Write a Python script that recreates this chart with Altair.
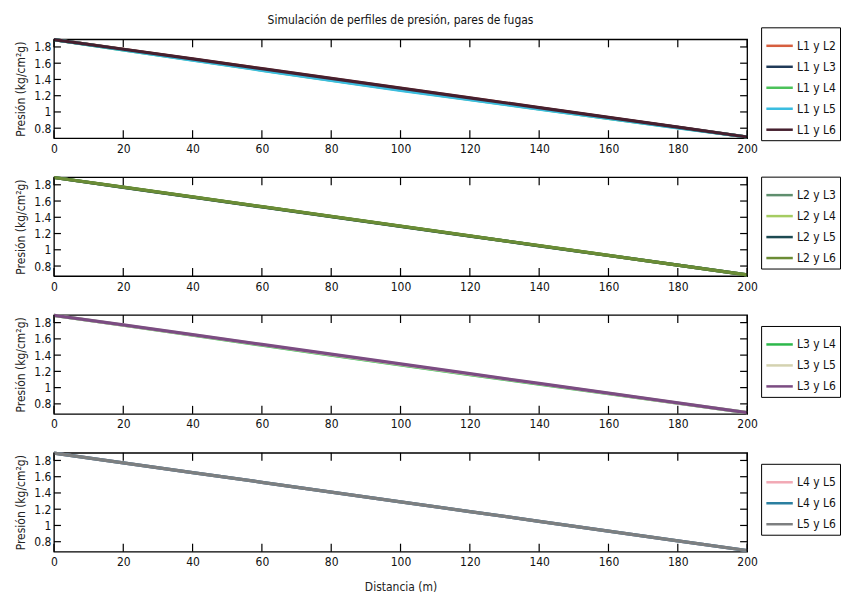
import altair as alt
import pandas as pd

FONT = "Liberation Sans Narrow, DejaVu Sans Condensed, Liberation Sans, sans-serif"

# ---- data ---------------------------------------------------------------
dist_m = [0, 20, 40, 60, 80, 100, 120, 140, 160, 180, 200]
x_ticks = [0, 20, 40, 60, 80, 100, 120, 140, 160, 180, 200]
y_ticks = [0.8, 1.0, 1.2, 1.4, 1.6, 1.8]

# panel 1
p1_names = ["L1 y L2", "L1 y L3", "L1 y L4", "L1 y L5", "L1 y L6"]
p1_colors = ["#d65f3f", "#203a58", "#4cc25a", "#3bbde0", "#46202f"]
L1_L2 = [1.89, 1.772, 1.652, 1.532, 1.412, 1.292, 1.172, 1.052, 0.932, 0.812, 0.692]
L1_L3 = [1.89, 1.769, 1.647, 1.526, 1.405, 1.285, 1.166, 1.047, 0.928, 0.810, 0.692]
L1_L4 = [1.89, 1.765, 1.640, 1.515, 1.392, 1.270, 1.153, 1.038, 0.921, 0.806, 0.692]
L1_L5 = [1.89, 1.764, 1.638, 1.512, 1.388, 1.266, 1.150, 1.035, 0.919, 0.805, 0.692]
L1_L6 = [1.89, 1.772, 1.653, 1.533, 1.413, 1.294, 1.174, 1.053, 0.933, 0.813, 0.692]

# panel 2
p2_names = ["L2 y L3", "L2 y L4", "L2 y L5", "L2 y L6"]
p2_colors = ["#5f8f6e", "#a5cc62", "#1d4a52", "#6b8c35"]
L2_L3 = [1.89, 1.770, 1.650, 1.530, 1.410, 1.290, 1.170, 1.050, 0.931, 0.811, 0.692]
L2_L4 = [1.89, 1.771, 1.651, 1.531, 1.411, 1.291, 1.171, 1.051, 0.932, 0.812, 0.692]
L2_L5 = [1.89, 1.769, 1.648, 1.528, 1.408, 1.288, 1.168, 1.049, 0.930, 0.811, 0.692]
L2_L6 = [1.89, 1.771, 1.651, 1.531, 1.411, 1.291, 1.171, 1.051, 0.931, 0.811, 0.692]

# panel 3
p3_names = ["L3 y L4", "L3 y L5", "L3 y L6"]
p3_colors = ["#2db84b", "#d4d2b0", "#7b4c82"]
L3_L4 = [1.89, 1.768, 1.645, 1.522, 1.400, 1.278, 1.160, 1.043, 0.926, 0.808, 0.692]
L3_L5 = [1.89, 1.770, 1.649, 1.528, 1.407, 1.286, 1.167, 1.048, 0.929, 0.810, 0.692]
L3_L6 = [1.89, 1.772, 1.652, 1.532, 1.412, 1.292, 1.172, 1.052, 0.932, 0.812, 0.692]

# panel 4
p4_names = ["L4 y L5", "L4 y L6", "L5 y L6"]
p4_colors = ["#f2a9b5", "#2b7fa0", "#7d7f80"]
L4_L5 = [1.89, 1.771, 1.651, 1.531, 1.411, 1.291, 1.171, 1.051, 0.931, 0.811, 0.692]
L4_L6 = [1.89, 1.771, 1.651, 1.531, 1.411, 1.291, 1.171, 1.051, 0.931, 0.811, 0.692]
L5_L6 = [1.89, 1.771, 1.651, 1.531, 1.411, 1.291, 1.171, 1.051, 0.931, 0.811, 0.692]

panels = [
    (p1_names, p1_colors, [L1_L2, L1_L3, L1_L4, L1_L5, L1_L6]),
    (p2_names, p2_colors, [L2_L3, L2_L4, L2_L5, L2_L6]),
    (p3_names, p3_colors, [L3_L4, L3_L5, L3_L6]),
    (p4_names, p4_colors, [L4_L5, L4_L6, L5_L6]),
]

W, H = 694, 99
YDOM = [0.677, 1.894]
Y_TITLE = "Presión (kg/cm²g)"

xt = pd.DataFrame({"dist": x_ticks})
yt = pd.DataFrame({"pres": y_ticks})


def make_panel(names, colors, series, idx):
    rows = []
    for k, (n, vals) in enumerate(zip(names, series)):
        for d, v in zip(dist_m, vals):
            rows.append({"dist": d, "pres": v, "serie": n, "k": k})
    df = pd.DataFrame(rows)
    n = len(names)
    box_h = 23 * n + 8
    last = idx == 3
    xaxis = alt.Axis(values=x_ticks, title="Distancia (m)" if last else None,
                     labelPadding=5, titlePadding=14, labelOverlap=False,
                     labelFlush=False)
    yaxis = alt.Axis(values=y_ticks, format="~g", title=Y_TITLE,
                     labelPadding=3, titlePadding=6, labelOverlap=False,
                     labelFlush=False)
    xs = alt.Scale(domain=[0, 200], nice=False)
    ys = alt.Scale(domain=YDOM, nice=False, zero=False)
    line = alt.Chart(df).mark_line(strokeWidth=3.2).encode(
        x=alt.X("dist:Q", scale=xs, axis=xaxis),
        y=alt.Y("pres:Q", scale=ys, axis=yaxis),
        color=alt.Color("serie:N", sort=names,
                        scale=alt.Scale(domain=names, range=colors),
                        legend=alt.Legend(
                            title=None, orient="none", legendX=708,
                            legendY=(H - box_h) / 2,
                            symbolType="stroke", symbolSize=700,
                            symbolStrokeWidth=2.5, labelFontSize=12,
                            labelFont=FONT, labelColor="#111",
                            rowPadding=0, padding=4, labelOffset=3,
                            strokeColor="black", fillColor="white",
                        )),
        order=alt.Order("k:Q"),
    )
    bt = alt.Chart(xt).mark_rule(color="black", strokeWidth=1.2).encode(
        x=alt.X("dist:Q", scale=xs, axis=xaxis), y=alt.value(H), y2=alt.value(H - 8))
    tt = alt.Chart(xt).mark_rule(color="black", strokeWidth=1.2).encode(
        x=alt.X("dist:Q", scale=xs, axis=xaxis), y=alt.value(0), y2=alt.value(8))
    lt = alt.Chart(yt).mark_rule(color="black", strokeWidth=1.2).encode(
        y=alt.Y("pres:Q", scale=ys, axis=yaxis), x=alt.value(0), x2=alt.value(7))
    rt = alt.Chart(yt).mark_rule(color="black", strokeWidth=1.2).encode(
        y=alt.Y("pres:Q", scale=ys, axis=yaxis), x=alt.value(W), x2=alt.value(W - 7))
    props = dict(width=W, height=H)
    if idx == 0:
        props["title"] = alt.TitleParams(
            "Simulación de perfiles de presión, pares de fugas",
            fontSize=12, fontWeight="normal", font=FONT, color="#111",
            anchor="middle", frame="group", offset=0)
    return alt.layer(line, bt, tt, lt, rt).properties(**props)


charts = [make_panel(n, c, s, i) for i, (n, c, s) in enumerate(panels)]

chart = alt.vconcat(*charts, spacing=39, bounds="flush").resolve_scale(
    color="independent"
).properties(
    background="white",
    padding={"left": 6, "top": 4, "right": 0, "bottom": 0},
).configure_view(
    stroke="black", strokeWidth=1.3
).configure_axis(
    grid=False, domain=False, tickSize=0,
    labelFont=FONT, labelFontSize=12, labelColor="#111",
    titleFont=FONT, titleFontSize=12, titleFontWeight="normal", titleColor="#222",
)

chart.save("out.html", embed_options={"renderer": "svg", "actions": False})
